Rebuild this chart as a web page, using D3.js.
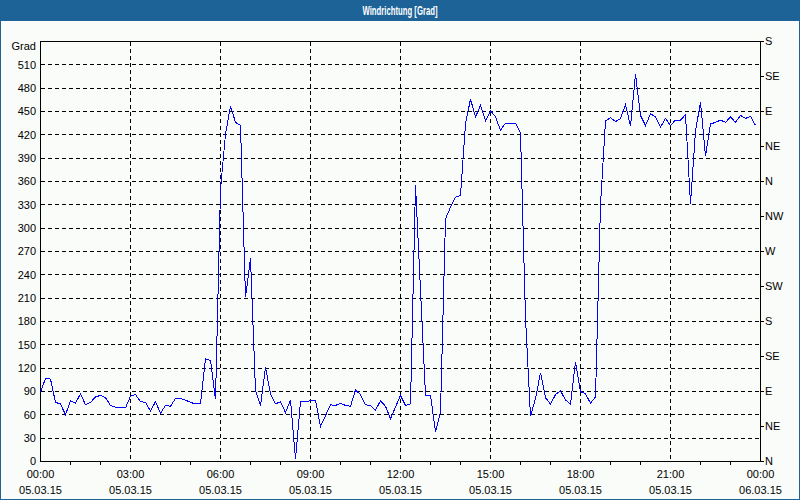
<!DOCTYPE html>
<html><head><meta charset="utf-8">
<script src="https://cdn.jsdelivr.net/npm/d3@7"></script>
<style>
body{margin:0;background:#fff}
svg{display:block}
text{font-family:"Liberation Sans",Arial,sans-serif;font-size:11px;fill:#000}
</style>
</head><body><svg id="c" width="800" height="500"></svg>
<script>
const chartTitle = "Windrichtung [Grad]";
const yUnit = "Grad";
const startTime = new Date(2015, 2, 5, 0, 0);
const endTime = new Date(2015, 2, 6, 0, 0);
const stepMinutes = 10;
const values = [
  89,107,106,76,74,60,78,75,87,73,
  76,83,85,82,72,70,69,69,84,86,
  77,76,65,77,62,72,71,81,81,79,
  76,74,75,132,130,80,350,421,457,436,
  432,211,261,91,72,121,87,74,77,63,
  79,3,77,77,78,79,45,59,73,72,
  75,72,71,92,86,73,72,66,78,71,
  55,70,85,72,74,355,220,85,85,38,
  63,312,327,340,342,434,466,443,458,438,
  451,443,426,435,435,435,422,185,58,81,
  114,82,74,86,91,79,74,128,90,87,
  75,83,330,438,442,437,441,459,431,498,
  445,432,447,443,430,441,432,439,439,446,
  331,425,462,393,434,436,439,436,443,436,
  445,441,444,432
];
const yTicks = [0,30,60,90,120,150,180,210,240,270,300,330,360,390,420,450,480,510];
const yMax = 540;
const dirTicks = [0,45,90,135,180,225,270,315,360,405,450,495,540];
const dirLabels = ["N","NE","E","SE","S","SW","W","NW","N","NE","E","SE","S"];
const xTickHours = [0,3,6,9,12,15,18,21,24];
const xTimeLabels = ["00:00","03:00","06:00","09:00","12:00","15:00","18:00","21:00","00:00"];
const xDateLabels = ["05.03.15","05.03.15","05.03.15","05.03.15","05.03.15","05.03.15","05.03.15","05.03.15","06.03.15"];

const W = 800, H = 500;
const svg = d3.select("#c");
const titleColor = "#1d6397";

svg.append("rect").attr("x",0).attr("y",0).attr("width",W).attr("height",H).attr("fill","#fafcfa");
svg.append("rect").attr("x",0.5).attr("y",0.5).attr("width",W-1).attr("height",H-1)
  .attr("fill","none").attr("stroke",titleColor);
svg.append("rect").attr("x",0).attr("y",0).attr("width",W).attr("height",21).attr("fill",titleColor);
svg.append("text").attr("x",W/2).attr("y",14.5).attr("text-anchor","middle")
  .style("fill","#fff").style("font-weight","bold").style("font-size","12px")
  .style("font-family","'Liberation Sans Narrow','Liberation Sans',Arial,sans-serif")
  .attr("textLength",75).attr("lengthAdjust","spacingAndGlyphs")
  .text(chartTitle);

const L = 40.5, R = 760.5, T = 41.5, B = 461.5;
const x = d3.scaleTime().domain([startTime, endTime]).range([L, R]);
const y = d3.scaleLinear().domain([0, yMax]).range([B, T]);
const hourTime = h => new Date(startTime.getTime() + h*3600000);
const py = d => Math.round(y(d)-0.5)+0.5;

// grid
const g = svg.append("g").attr("shape-rendering","crispEdges");
g.selectAll(".hg").data(yTicks.filter(v=>v>0)).join("line")
  .attr("x1",L).attr("x2",R).attr("y1",py).attr("y2",py)
  .attr("stroke","#000").attr("stroke-dasharray","4,3");
g.selectAll(".vg").data(xTickHours.slice(1,-1)).join("line")
  .attr("x1",d=>x(hourTime(d))).attr("x2",d=>x(hourTime(d))).attr("y1",T).attr("y2",B)
  .attr("stroke","#000").attr("stroke-dasharray","4,3");

// minor hour ticks
const minorHours = d3.range(1,24).filter(h=>h%3!==0);
g.selectAll(".mt").data(minorHours).join("line")
  .attr("x1",d=>x(hourTime(d))).attr("x2",d=>x(hourTime(d))).attr("y1",B).attr("y2",B+3)
  .attr("stroke","#000");

// frame
g.append("rect").attr("x",L).attr("y",T).attr("width",R-L).attr("height",B-T)
  .attr("fill","none").attr("stroke","#000");

// right ticks
g.selectAll(".rt").data(dirTicks).join("line")
  .attr("x1",R).attr("x2",R+3).attr("y1",py).attr("y2",py)
  .attr("stroke","#000");

// left labels
svg.selectAll(".yl").data(yTicks).join("text")
  .attr("x",36).attr("y",d=>y(d)).attr("dy","0.35em").attr("text-anchor","end").text(d=>d);
svg.append("text").attr("x",36).attr("y",y(yMax)+5).attr("dy","0.35em").attr("text-anchor","end").text(yUnit);

// right labels
svg.selectAll(".rl").data(dirTicks).join("text")
  .attr("x",765).attr("y",d=>y(d)).attr("dy","0.35em").attr("text-anchor","start")
  .text((d,i)=>dirLabels[i]);

// bottom labels
svg.selectAll(".xt").data(xTickHours).join("text")
  .attr("x",d=>x(hourTime(d))).attr("y",478).attr("text-anchor","middle").text((d,i)=>xTimeLabels[i]);
svg.selectAll(".xd").data(xTickHours).join("text")
  .attr("x",d=>x(hourTime(d))).attr("y",494).attr("text-anchor","middle").text((d,i)=>xDateLabels[i]);

// line
const pts = values.map((v,i)=>({t:new Date(startTime.getTime()+i*stepMinutes*60000), v}));
const line = d3.line().x(d=>x(d.t)).y(d=>y(d.v));
svg.append("path").datum(pts).attr("d",line).attr("fill","none")
  .attr("stroke","#0000ff").attr("stroke-width",1).attr("shape-rendering","crispEdges");
</script>
</body></html>
